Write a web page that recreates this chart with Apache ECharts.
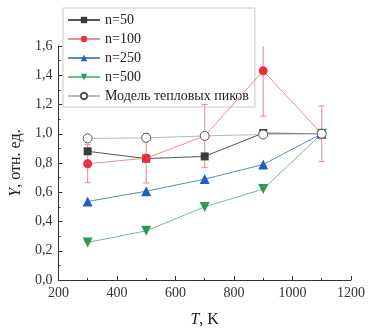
<!DOCTYPE html>
<html><head><meta charset="utf-8">
<script src="https://cdn.jsdelivr.net/npm/echarts@6/dist/echarts.min.js"></script>
<style>html,body{margin:0;padding:0;background:#fff}#c{width:368px;height:333px}</style>
</head><body><div id="c"></div>
<script>
var temps = [300, 500, 700, 900, 1100];
var n50 = [0.88, 0.83, 0.845, 1.005, 1.0];
var n100 = [0.795, 0.833, 0.985, 1.43, 1.0];
var n100Err = [0.13, 0.17, 0.215, 0.31, 0.19];
var n250 = [0.537, 0.607, 0.69, 0.79, 1.0];
var n500 = [0.257, 0.336, 0.50, 0.622, 1.0];
var model = [0.968, 0.972, 0.985, 0.995, 1.0];
var seriesNames = ['n=50', 'n=100', 'n=250', 'n=500', 'Модель тепловых пиков'];

function pairs(v){ return temps.map(function(t,i){ return [t, v[i]]; }); }
var errData = temps.map(function(t,i){ return [t, n100[i]-n100Err[i], n100[i]+n100Err[i]]; });

var serif = "'Liberation Serif', 'Times New Roman', serif";
var chart = echarts.init(document.getElementById('c'));
chart.setOption({
  animation: false,
  textStyle: {fontFamily: serif},
  grid: {left: 56, right: 16, top: 46, bottom: 48},
  legend: {
    orient: 'vertical', left: 63, top: 8,
    borderColor: '#c8c8c8', borderWidth: 1, padding: [5, 6, 4, 4],
    itemWidth: 32, itemHeight: 8, itemGap: 5,
    textStyle: {fontFamily: serif, fontSize: 14, color: '#222'},
    data: seriesNames
  },
  xAxis: {
    type: 'value', min: 200, max: 1200, interval: 200,
    name: '{i|T}, K', nameLocation: 'middle', nameGap: 32,
    nameTextStyle: {fontFamily: serif, fontSize: 16, color: '#222', rich: {i: {fontStyle: 'italic', fontFamily: serif, fontSize: 16, color: '#222'}}},
    axisLine: {lineStyle: {color: '#333'}},
    axisTick: {inside: true, length: 4, lineStyle: {color: '#333'}},
    minorTick: {show: true, splitNumber: 2, length: 2, lineStyle: {color: '#333'}},
    axisLabel: {fontFamily: serif, fontSize: 14, color: '#333', margin: 6,
      formatter: function(v){ return String(v); }},
    splitLine: {show: false}
  },
  yAxis: {
    type: 'value', min: 0, max: 1.6, interval: 0.2,
    name: '{i|Y}, отн. ед.', nameLocation: 'middle', nameGap: 28, nameRotate: 90,
    nameTextStyle: {fontFamily: serif, fontSize: 16, color: '#222', rich: {i: {fontStyle: 'italic', fontFamily: serif, fontSize: 16, color: '#222'}}},
    axisLine: {show: true, lineStyle: {color: '#333'}},
    axisTick: {show: true, inside: true, length: 4, lineStyle: {color: '#333'}},
    minorTick: {show: true, splitNumber: 2, length: 2, lineStyle: {color: '#333'}},
    axisLabel: {fontFamily: serif, fontSize: 14, color: '#333', margin: 6,
      formatter: function(v){ return v.toFixed(1).replace('.', ','); }},
    splitLine: {show: false}
  },
  series: [
    {name: 'err', type: 'custom', data: errData, clip: true, z: 3,
      renderItem: function(params, api){
        var x = api.value(0);
        var lo = api.coord([x, api.value(1)]);
        var hi = api.coord([x, api.value(2)]);
        var st = {stroke: '#e88a8d', lineWidth: 1};
        var w = 3;
        return {type: 'group', children: [
          {type: 'line', shape: {x1: lo[0], y1: lo[1], x2: hi[0], y2: hi[1]}, style: st},
          {type: 'line', shape: {x1: lo[0]-w, y1: lo[1], x2: lo[0]+w, y2: lo[1]}, style: st},
          {type: 'line', shape: {x1: hi[0]-w, y1: hi[1], x2: hi[0]+w, y2: hi[1]}, style: st}
        ]};
      }},
    {name: seriesNames[0], type: 'line', data: pairs(n50), symbol: 'rect', symbolSize: 8,
      lineStyle: {color: '#555', width: 1}, itemStyle: {color: '#3a3a3a'}, z: 4},
    {name: seriesNames[1], type: 'line', data: pairs(n100), symbol: 'circle', symbolSize: 9,
      lineStyle: {color: '#ef8c8f', width: 1}, itemStyle: {color: '#e8303a'}, z: 5},
    {name: seriesNames[2], type: 'line', data: pairs(n250), symbol: 'triangle', symbolSize: 10,
      lineStyle: {color: '#5b86d0', width: 1}, itemStyle: {color: '#1f5fc4'}, z: 4},
    {name: seriesNames[3], type: 'line', data: pairs(n500), symbol: 'triangle', symbolRotate: 180, symbolSize: 10,
      lineStyle: {color: '#6cbf8a', width: 1}, itemStyle: {color: '#2f9a58'}, z: 4},
    {name: seriesNames[4], type: 'line', data: pairs(model), symbol: 'circle', symbolSize: 9,
      lineStyle: {color: '#b8b8b8', width: 1}, itemStyle: {color: '#fff', borderColor: '#555', borderWidth: 1}, z: 6}
  ]
});
</script></body></html>
